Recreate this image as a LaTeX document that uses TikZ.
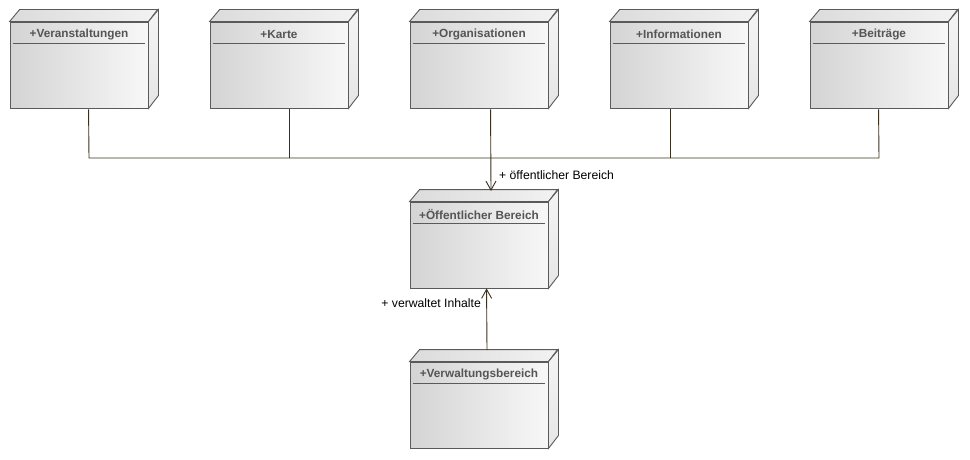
\documentclass[tikz,border=0pt]{standalone}
\usepackage{fontspec}
\setmainfont{Liberation Sans}
\usetikzlibrary{arrows.meta,calc}
\definecolor{edgec}{HTML}{3B3020}
\definecolor{boxline}{HTML}{5A5A5A}
\definecolor{titlec}{HTML}{555555}
\tikzset{
  nodebox/.style={draw=boxline, line width=0.9pt, minimum width=138pt, minimum height=86pt,
    inner sep=0pt, left color=black!17, right color=black!3, shading angle=90},
  topface/.style={draw=boxline, line width=0.9pt, left color=black!14, right color=black!5},
  sideface/.style={draw=boxline, line width=0.9pt, top color=black!4, bottom color=black!10},
  titletext/.style={font=\fontsize{11.8}{14}\selectfont\bfseries, text=titlec, inner sep=0pt},
  sepline/.style={draw=boxline, line width=0.8pt},
  conn/.style={draw=edgec, line width=0.9pt},
  arr/.style={conn, -{Straight Barb[length=9pt,width=10pt,line width=0.9pt]}},
  lbl/.style={font=\fontsize{12.2}{14}\selectfont, inner sep=0pt, text=black}
}
\newcommand{\umlnode}[4]{%
  \node[nodebox] (#1) at (#2,#3) {};
  \path[topface] (#1.north west) -- ++(10,-12) -- ++(138,0) -- (#1.north east) -- cycle;
  \path[sideface] (#1.north east) -- ++(10,-12) -- ++(0,86) -- (#1.south east) -- cycle;
  \node[titletext] (#1t) at ($(#1.north)+(0,13)$) {#4};
  \draw[sepline] ($(#1.north west)+(3,22)$) -- ($(#1.north east)+(-3,22)$);
}
\begin{document}
\begin{tikzpicture}[x=1pt,y=-1pt]
\useasboundingbox (0,0) rectangle (970,460);
\umlnode{va}{79}{65}{+Veranstaltungen}
\umlnode{ka}{279}{65}{+Karte}
\umlnode{org}{479}{65}{+Organisationen}
\umlnode{inf}{679}{65}{+Informationen}
\umlnode{bei}{879}{65}{+Beiträge}
\umlnode{oeb}{479}{245}{+Öffentlicher Bereich}
\umlnode{vwb}{479}{405}{+Verwaltungsbereich}
% junction coordinates
\coordinate (jl) at (89,158);
\coordinate (jr) at (879,158);
\coordinate (tip) at (491,191);
\coordinate (vstart) at (487,350);
% connectors
\draw[conn] ($(va.south west)+(79,1)$) -- (jl) -- (jr) -- ($(bei.south west)+(69,1)$);
\draw[conn] ($(ka.south west)+(80,1)$) -- ($(ka.south west)+(80,50)$);
\draw[conn] ($(inf.south west)+(61,1)$) -- ($(inf.south west)+(61,50)$);
\draw[arr] ($(org.south west)+(81,1)$) -- (tip);
\draw[arr] (vstart) -- ($(oeb.south west)+(77,0)$);
% labels
\node[lbl, anchor=west] (l1) at (499,175) {+ öffentlicher Bereich};
\node[lbl, anchor=east] (l2) at (481,303) {+ verwaltet Inhalte};
\end{tikzpicture}
\end{document}
